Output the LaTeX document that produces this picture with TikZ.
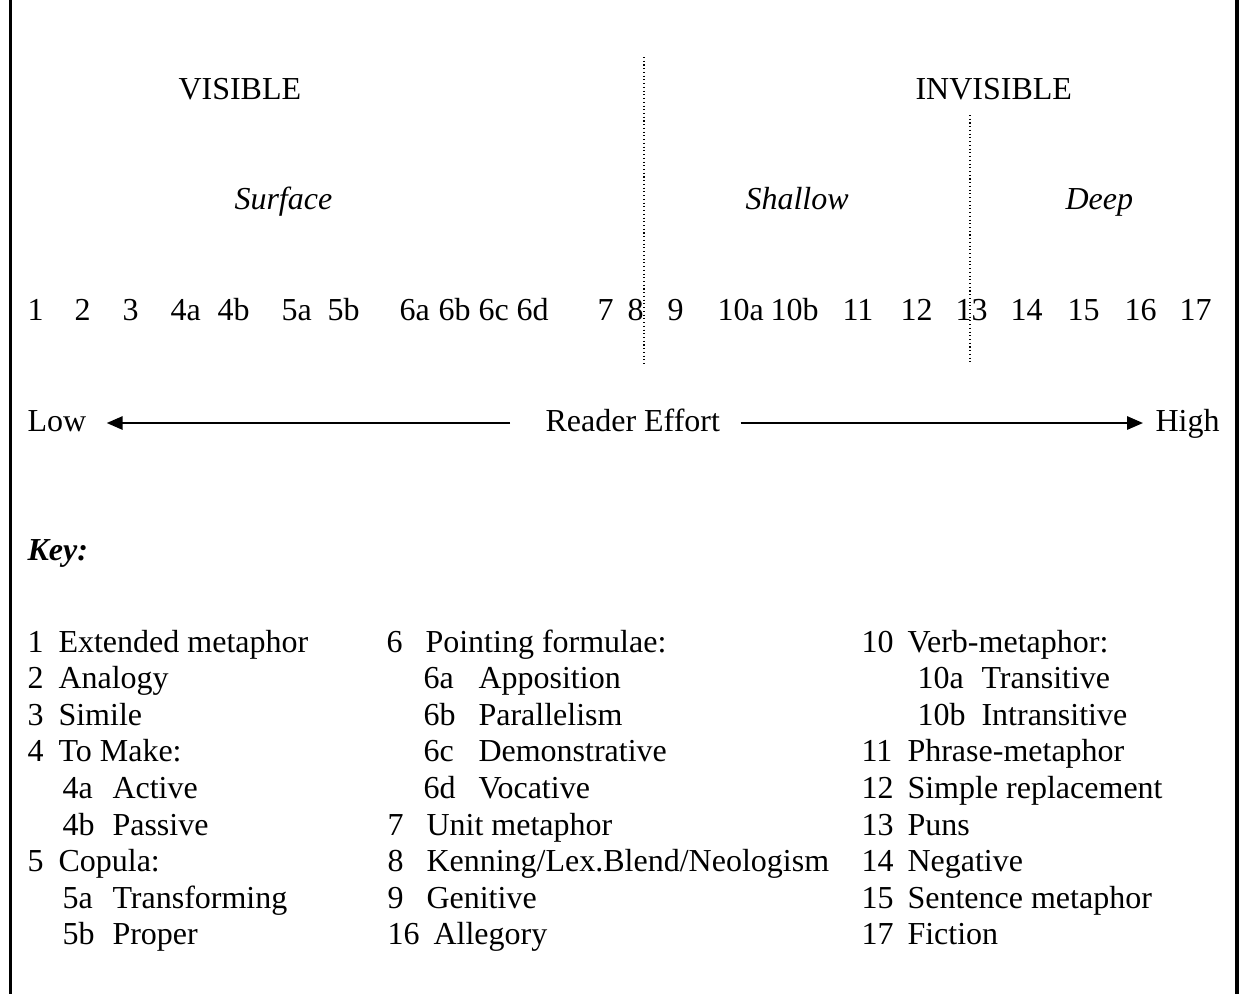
\documentclass[tikz,border=0pt]{standalone}
\usepackage{fontspec}
\setmainfont{Liberation Serif}
\usetikzlibrary{calc, arrows.meta}

\tikzset{
	lbl/.style={anchor=base west, inner sep=0pt, font=\fontsize{12pt}{14pt}\selectfont},
	lbl it/.style={lbl, font=\fontsize{12pt}{14pt}\selectfont\itshape},
	lbl key/.style={lbl, font=\fontsize{12pt}{14pt}\selectfont\bfseries\itshape},
	frame/.style={line width=1.4pt},
	divider/.style={densely dotted, line width=0.4pt},
	effort/.style={line width=0.75pt, -{Triangle[length=6pt, width=5pt]}},
}

\begin{document}
\begin{tikzpicture}[x=0.375pt, y=-0.375pt]
			\def\rowgap{36.6};
			\def\keytop{652};
			
			\useasboundingbox (0,0) rectangle (1239,994);
			
			% side rules of the box
			\draw[frame] (10.5,0) -- (10.5,994);
			\draw[frame] (1237,0) -- (1237,994);
			
			% headings
			\node[lbl] (visible) at (178,99) {VISIBLE};
			\node[lbl] (invisible) at (915,99) {INVISIBLE};
			\node[lbl it] (surface) at (234,209) {Surface};
			\node[lbl it] (shallow) at (745,209) {Shallow};
			\node[lbl it] (deep) at (1065,209) {Deep};
			
			\coordinate (divider one top) at (644,57);
			\coordinate (divider one bottom) at (644,364);
			\coordinate (divider two top) at (970,115);
			\coordinate (divider two bottom) at (970,364);
			\draw[divider] (divider one top) -- (divider one bottom);
			\draw[divider] (divider two top) -- (divider two bottom);
			
			% scale of types
			\foreach \lab/\x in {1/27, 2/74, 3/122, 4a/170, 4b/217, 5a/281, 5b/327, 6a/399, 6b/438, 6c/478, 6d/516, 7/597, 8/627, 9/667, 10a/717, 10b/770, 11/842, 12/900, 13/955, 14/1010, 15/1067, 16/1124, 17/1179}
				\node[lbl] (n\lab) at (\x,320) {\lab};
			
			% reader effort
			\node[lbl] (low) at (27,431) {Low};
			\node[lbl] (reader effort) at (545,431) {Reader Effort};
			\node[lbl] (high) at (1155,431) {High};
			\draw[effort] ($ (reader effort.base west) + (-35,-8) $) -- ($ (low.base east) + (20,-8) $);
			\draw[effort] ($ (reader effort.base east) + (20,-8) $) -- ($ (high.base west) + (-12,-8) $);
			
			% key
			\node[lbl key] (key) at (27,560) {Key:};
			\foreach \r/\nx/\num/\tx/\txt in {0/27/1/58/Extended metaphor, 1/27/2/58/Analogy, 2/27/3/58/Simile, 3/27/4/58/To Make:, 4/62/4a/112/Active, 5/62/4b/112/Passive, 6/27/5/58/Copula:, 7/62/5a/112/Transforming, 8/62/5b/112/Proper,
				0/386/6/425/Pointing formulae:, 1/423/6a/478/Apposition, 2/423/6b/478/Parallelism, 3/423/6c/478/Demonstrative, 4/423/6d/478/Vocative, 5/387/7/426/Unit metaphor, 6/387/8/426/{Kenning/Lex.Blend/Neologism}, 7/387/9/426/Genitive, 8/387/16/433/Allegory,
				0/861/10/907/Verb-metaphor:, 1/917/10a/981/Transitive, 2/917/10b/981/Intransitive, 3/861/11/907/Phrase-metaphor, 4/861/12/907/Simple replacement, 5/861/13/907/Puns, 6/861/14/907/Negative, 7/861/15/907/Sentence metaphor, 8/861/17/907/Fiction}
			{
				\node[lbl] (k\num) at (\nx,\keytop+\r*\rowgap) {\num};
				\node[lbl] (k\num-text) at (\tx,\keytop+\r*\rowgap) {\txt};
			}
		\end{tikzpicture}
\end{document}
